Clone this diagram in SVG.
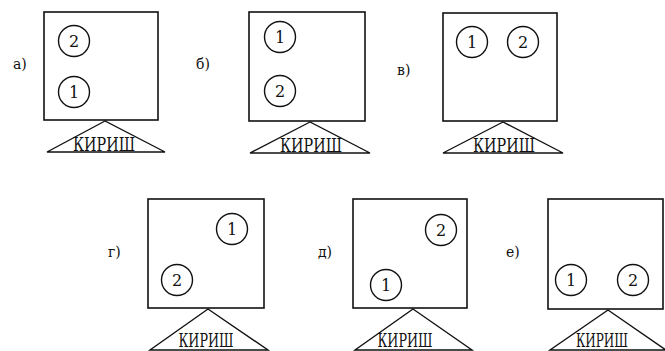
<svg xmlns="http://www.w3.org/2000/svg" width="665" height="351" viewBox="0 0 665 351">
  <style>
    .frame { fill: #fff; stroke: #111; stroke-width: 1.6; }
    .ball { fill: #fff; stroke: #111; stroke-width: 1.4; }
    .beam { fill: #fff; stroke: #111; stroke-width: 1.4; stroke-linejoin: miter; }
    text { font-family: "DejaVu Serif", "Liberation Serif", serif; fill: #111; }
    .num { font-size: 16px; text-anchor: middle; }
    .tag { font-size: 14px; }
    .beam-text { font-size: 18px; text-anchor: middle; }
  </style>

  <!-- a) -->
  <g id="panel-a">
    <text class="tag" x="13" y="69">а)</text>
    <rect class="frame" x="44" y="12" width="114" height="108"/>
    <circle class="ball" cx="74" cy="41" r="15.5"/>
    <text class="num" x="74" y="47">2</text>
    <circle class="ball" cx="74" cy="92" r="15.5"/>
    <text class="num" x="74" y="98">1</text>
    <polygon class="beam" points="105,121 47,152 165,152"/>
    <text class="beam-text" x="104" y="151" textLength="62" lengthAdjust="spacingAndGlyphs">КИРИШ</text>
  </g>

  <!-- б) -->
  <g id="panel-b">
    <text class="tag" x="196" y="69">б)</text>
    <rect class="frame" x="249" y="12" width="116" height="109"/>
    <circle class="ball" cx="280" cy="37" r="15.5"/>
    <text class="num" x="280" y="43">1</text>
    <circle class="ball" cx="280" cy="91" r="15.5"/>
    <text class="num" x="280" y="97">2</text>
    <polygon class="beam" points="310,122 250,153 370,153"/>
    <text class="beam-text" x="311" y="152" textLength="62" lengthAdjust="spacingAndGlyphs">КИРИШ</text>
  </g>

  <!-- в) -->
  <g id="panel-v">
    <text class="tag" x="397" y="75">в)</text>
    <rect class="frame" x="443" y="13" width="114" height="108"/>
    <circle class="ball" cx="472" cy="42" r="15.5"/>
    <text class="num" x="472" y="48">1</text>
    <circle class="ball" cx="523" cy="42" r="15.5"/>
    <text class="num" x="523" y="48">2</text>
    <polygon class="beam" points="503,122 443,153 563,153"/>
    <text class="beam-text" x="504" y="152" textLength="62" lengthAdjust="spacingAndGlyphs">КИРИШ</text>
  </g>

  <!-- г) -->
  <g id="panel-g">
    <text class="tag" x="108" y="257">г)</text>
    <rect class="frame" x="148" y="199" width="116" height="109"/>
    <circle class="ball" cx="232" cy="229" r="15.5"/>
    <text class="num" x="232" y="235">1</text>
    <circle class="ball" cx="177" cy="280" r="15.5"/>
    <text class="num" x="177" y="286">2</text>
    <polygon class="beam" points="208,309 150,350 268,350"/>
    <text class="beam-text" x="206" y="347" textLength="55" lengthAdjust="spacingAndGlyphs">КИРИШ</text>
  </g>

  <!-- д) -->
  <g id="panel-d">
    <text class="tag" x="318" y="257">д)</text>
    <rect class="frame" x="353" y="199" width="114" height="109"/>
    <circle class="ball" cx="441" cy="230" r="15.5"/>
    <text class="num" x="441" y="236">2</text>
    <circle class="ball" cx="386" cy="285" r="15.5"/>
    <text class="num" x="386" y="291">1</text>
    <polygon class="beam" points="413,309 355,350 472,350"/>
    <text class="beam-text" x="405" y="347" textLength="55" lengthAdjust="spacingAndGlyphs">КИРИШ</text>
  </g>

  <!-- е) -->
  <g id="panel-e">
    <text class="tag" x="506" y="257">е)</text>
    <rect class="frame" x="548" y="199" width="115" height="110"/>
    <circle class="ball" cx="571" cy="280" r="15.5"/>
    <text class="num" x="571" y="286">1</text>
    <circle class="ball" cx="633" cy="280" r="15.5"/>
    <text class="num" x="633" y="286">2</text>
    <polygon class="beam" points="608,310 550,350 666,350"/>
    <text class="beam-text" x="602" y="347" textLength="52" lengthAdjust="spacingAndGlyphs">КИРИШ</text>
  </g>
</svg>
